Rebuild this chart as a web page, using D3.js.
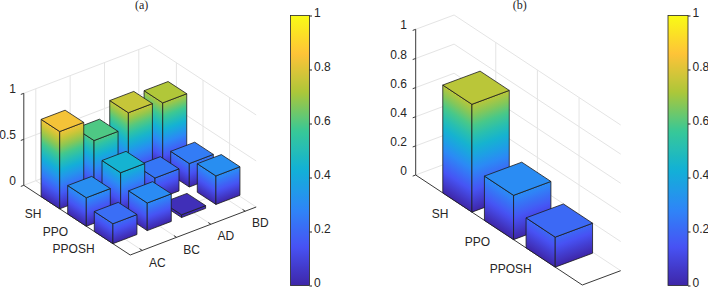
<!DOCTYPE html>
<html>
<head>
<meta charset="utf-8">
<script src="https://cdn.jsdelivr.net/npm/d3@7"></script>
<style>
  html, body { margin: 0; padding: 0; background: #fff; }
  svg { display: block; }
  text { font-family: "Liberation Sans", Arial, sans-serif; font-size: 12px; fill: #262626; }
  .title { font-family: "Liberation Serif", "Times New Roman", serif; }
</style>
</head>
<body>
<div id="chart"></div>
<script>
// bar heights
var rowLabels = ['SH', 'PPO', 'PPOSH'];
var colLabels = ['AC', 'BC', 'AD', 'BD'];
var shValues = [0.84, 0.60, 0.76, 0.725];
var ppoValues = [0.31, 0.44, 0.24, 0.255];
var pposhValues = [0.217, 0.30, 0.03, 0.31];
var singleValues = [0.74, 0.304, 0.206];

var zTicksA = [0, 0.5, 1];
var zTicksB = [0, 0.2, 0.4, 0.6, 0.8, 1];
var cbTicks = [0, 0.2, 0.4, 0.6, 0.8, 1];

// parula
var parulaStops = ['#3e26a8', '#4752f4', '#2d87f7', '#12b1d6', '#37c897', '#abc739', '#fec338', '#f9fb15'];
var parula = d3.scaleLinear()
    .domain(parulaStops.map(function(d, i) { return i / (parulaStops.length - 1); }))
    .range(parulaStops)
    .interpolate(d3.interpolateRgb);

var svg = d3.select('#chart').append('svg').attr('width', 708).attr('height', 290);
var defs = svg.append('defs');
var gradId = 0;

// gradient running up a face, its bands parallel to the face's bottom edge
function faceGradient(base, edge, height, value) {
    var len = Math.sqrt(edge[0] * edge[0] + edge[1] * edge[1]);
    var nx = -edge[1] / len, ny = edge[0] / len;
    var d = -height * ny;
    var id = 'g' + (gradId++);
    var g = defs.append('linearGradient').attr('id', id)
        .attr('gradientUnits', 'userSpaceOnUse')
        .attr('x1', base[0]).attr('y1', base[1])
        .attr('x2', base[0] + nx * d).attr('y2', base[1] + ny * d);
    d3.range(0, 11).forEach(function(i) {
        var t = i / 10;
        g.append('stop').attr('offset', t).attr('stop-color', parula(t * value));
    });
    return 'url(#' + id + ')';
}

function drawPanel(cfg) {
    var g = svg.append('g');
    var xPos = d3.scaleLinear().domain(cfg.xlim).range([0, 1]);
    var yPos = d3.scaleLinear().domain([0, 4]).range([0, 1]);
    var zPos = d3.scaleLinear().domain([0, 1]).range([0, cfg.zPx]);

    function project(c, r, z) {
        return [cfg.left[0] + xPos(c) * cfg.colVec[0] + yPos(r) * cfg.rowVec[0],
                cfg.left[1] + xPos(c) * cfg.colVec[1] + yPos(r) * cfg.rowVec[1] - zPos(z)];
    }
    function line3(a, b, color, w) {
        var p = project(a[0], a[1], a[2]), q = project(b[0], b[1], b[2]);
        g.append('line').attr('x1', p[0]).attr('y1', p[1]).attr('x2', q[0]).attr('y2', q[1])
            .attr('stroke', color).attr('stroke-width', w);
    }

    var x0 = cfg.xlim[0], x1 = cfg.xlim[1];
    var grid = '#e4e4e4', axis = '#3a3a3a';

    // walls and floor grid
    cfg.zTicks.forEach(function(z) {
        line3([x0, 0, z], [x1, 0, z], grid, 1);
        line3([x1, 0, z], [x1, 4, z], grid, 1);
    });
    cfg.colTicks.forEach(function(c) {
        line3([c, 0, 0], [c, 0, 1], grid, 1);
        line3([c, 0, 0], [c, 4, 0], grid, 1);
    });
    d3.range(1, cfg.rows.length + 1).forEach(function(r) {
        line3([x1, r, 0], [x1, r, 1], grid, 1);
        line3([x0, r, 0], [x1, r, 0], grid, 1);
    });

    // axes
    line3([x0, 0, 0], [x0, 0, 1], axis, 1);
    line3([x0, 0, 0], [x0, 4, 0], axis, 1);
    line3([x0, 4, 0], [x1, 4, 0], axis, 1);

    var colUnit = 3 / (Math.abs(cfg.colVec[0]) / (x1 - x0));
    cfg.zTicks.forEach(function(z) {
        line3([x0, 0, z], [x0 - colUnit, 0, z], axis, 1);
        var p = project(x0, 0, z);
        g.append('text').attr('x', cfg.zLabelX).attr('y', p[1] - 3)
            .attr('text-anchor', 'end').attr('dominant-baseline', 'middle')
            .text(z);
    });
    cfg.rows.forEach(function(name, i) {
        var r = i + 1, p = project(x0, r, 0);
        line3([x0, r, 0], [x0 + colUnit, r, 0], axis, 1);
        g.append('text').attr('x', p[0] + cfg.rowLabelOff[0]).attr('y', p[1] + cfg.rowLabelOff[1])
            .attr('text-anchor', 'end').attr('dominant-baseline', 'middle').text(name);
    });
    cfg.colTicks.forEach(function(c, i) {
        var p = project(c, 4, 0);
        line3([c, 4, 0], [c, 3.9, 0], axis, 1);
        g.append('text').attr('x', p[0] + 15).attr('y', p[1] + 13)
            .attr('text-anchor', 'middle').attr('dominant-baseline', 'middle').text(cfg.cols[i]);
    });

    // bars, back to front
    var half = 0.35;
    cfg.values.forEach(function(rowVals, i) {
        d3.range(rowVals.length - 1, -1, -1).forEach(function(j) {
            var v = rowVals[j], r = i + 1, c = j + 1;
            var lo = [c - half, r - half], hi = [c + half, r + half];
            var a = project(lo[0], hi[1], 0);   // front bottom
            var b = project(lo[0], lo[1], 0);   // left bottom
            var d = project(hi[0], hi[1], 0);   // right bottom
            var at = project(lo[0], hi[1], v), bt = project(lo[0], lo[1], v);
            var dt = project(hi[0], hi[1], v), et = project(hi[0], lo[1], v);
            var faces = [
                { pts: [b, a, at, bt], fill: faceGradient(b, [a[0] - b[0], a[1] - b[1]], zPos(v), v) },
                { pts: [a, d, dt, at], fill: faceGradient(a, [d[0] - a[0], d[1] - a[1]], zPos(v), v) },
                { pts: [bt, at, dt, et], fill: parula(v) }
            ];
            g.selectAll(null).data(faces).enter().append('polygon')
                .attr('points', function(f) { return f.pts.join(' '); })
                .attr('fill', function(f) { return f.fill; })
                .attr('stroke', '#1c1c1c').attr('stroke-width', 0.8)
                .attr('stroke-linejoin', 'round');
        });
    });

    svg.append('text').attr('class', 'title').attr('x', cfg.titleX).attr('y', 9)
        .attr('text-anchor', 'middle').text(cfg.title);
}

function drawColorbar(x, w) {
    var top = 15.5, bottom = 285.5;
    var y = d3.scaleLinear().domain([0, 1]).range([bottom, top]);
    var id = 'cb' + x;
    var grad = defs.append('linearGradient').attr('id', id)
        .attr('x1', 0).attr('y1', 1).attr('x2', 0).attr('y2', 0);
    d3.range(0, 65).forEach(function(i) {
        grad.append('stop').attr('offset', i / 64).attr('stop-color', parula(i / 64));
    });
    var g = svg.append('g');
    g.append('rect').attr('x', x).attr('y', top).attr('width', w).attr('height', bottom - top)
        .attr('fill', 'url(#' + id + ')').attr('stroke', '#262626').attr('stroke-width', 0.8);
    var ax = g.append('g').attr('transform', 'translate(' + (x + w) + ',0)')
        .call(d3.axisRight(y).tickValues(cbTicks).tickFormat(d3.format('')).tickSize(2.5).tickPadding(2));
    ax.select('.domain').remove();
    ax.selectAll('line').attr('stroke', '#262626');
    ax.selectAll('text').attr('font-family', null).attr('font-size', null).attr('fill', null).attr('dy', '0.1em');
    ax.attr('font-family', null).attr('font-size', null);
}

drawPanel({
    title: '(a)', titleX: 141.7,
    rows: rowLabels, cols: colLabels,
    values: [shValues, ppoValues, pposhValues],
    xlim: [0.65, 4.32],
    left: [23.8, 185.3], rowVec: [106.4, 69.7], colVec: [126, -48], zPx: 92,
    zTicks: zTicksA, colTicks: [1, 2, 3, 4],
    zLabelX: 16, rowLabelOff: [-9, 12.5]
});
drawColorbar(290.5, 19);

drawPanel({
    title: '(b)', titleX: 519.7,
    rows: rowLabels, cols: [],
    values: [[singleValues[0]], [singleValues[1]], [singleValues[2]]],
    xlim: [0.65, 1.37],
    left: [415.7, 175], rowVec: [166.6, 110], colVec: [38.4, -14.3], zPx: 145.7,
    zTicks: zTicksB, colTicks: [],
    zLabelX: 407, rowLabelOff: [-9, 12.5]
});
drawColorbar(668, 20);
</script>
</body>
</html>
